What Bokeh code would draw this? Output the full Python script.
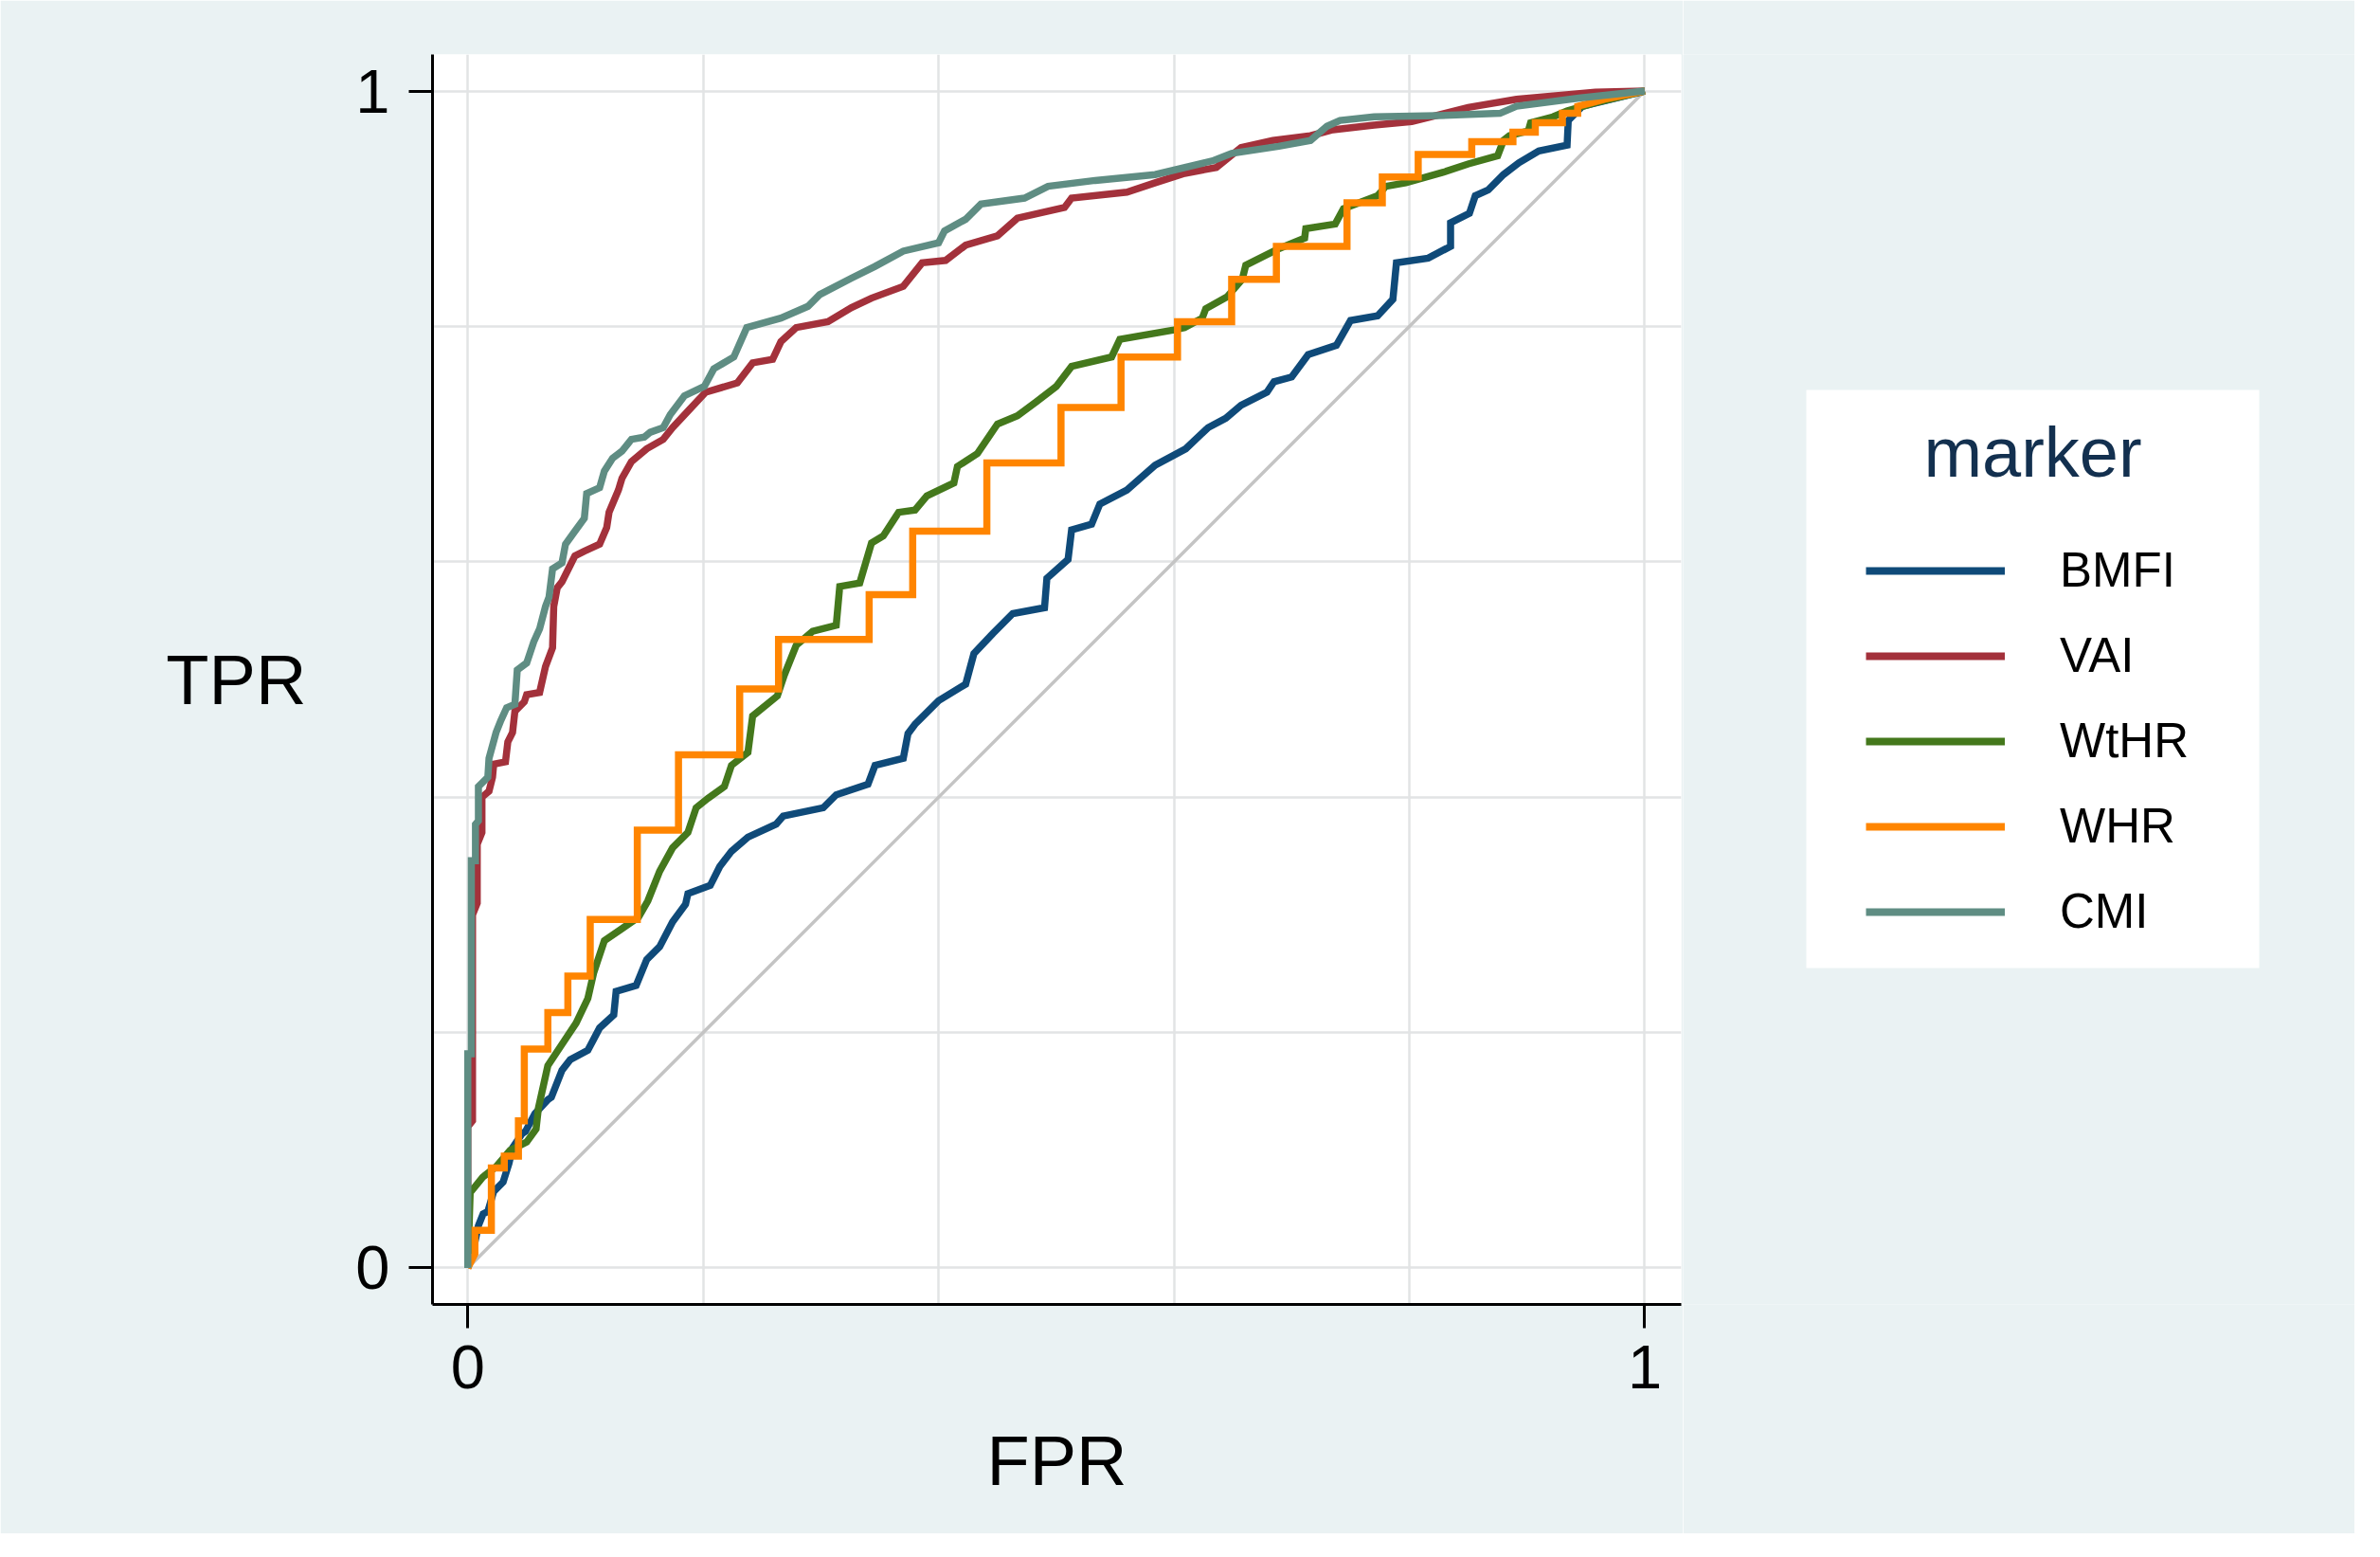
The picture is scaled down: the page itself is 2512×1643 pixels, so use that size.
import numpy as np
from bokeh.plotting import figure
from bokeh.models import FixedTicker, Legend, LegendItem, LinearAxis, Range1d, Grid
from bokeh.layouts import row
from bokeh.core.properties import value
from bokeh.embed import file_html
from bokeh.resources import INLINE

# ---------------- data ----------------
series_names = ["BMFI", "VAI", "WtHR", "WHR", "CMI"]
series_colors = ["#0f4a79", "#a3313b", "#44781c", "#ff8500", "#5f8d83"]
legend_title = "marker"

bmfi_fpr = [0, 0.004, 0.009, 0.013, 0.017, 0.022, 0.03, 0.035, 0.038, 0.046, 0.049, 0.057, 0.068, 0.071,
            0.080, 0.087, 0.102, 0.112, 0.124, 0.126, 0.143, 0.152, 0.163, 0.174, 0.185, 0.187, 0.206,
            0.214, 0.224, 0.238, 0.262, 0.268, 0.302, 0.313, 0.340, 0.346, 0.370, 0.374, 0.380, 0.400,
            0.423, 0.430, 0.446, 0.463, 0.490, 0.492, 0.510, 0.513, 0.530, 0.537, 0.560, 0.584, 0.610,
            0.629, 0.644, 0.657, 0.679, 0.685, 0.700, 0.714, 0.738, 0.750, 0.773, 0.786, 0.789, 0.816,
            0.835, 0.835, 0.851, 0.856, 0.867, 0.880, 0.893, 0.910, 0.934, 0.935, 0.947, 1.0]
bmfi_tpr = [0, 0.012, 0.036, 0.046, 0.048, 0.065, 0.073, 0.089, 0.102, 0.114, 0.116, 0.131, 0.143, 0.145,
            0.168, 0.177, 0.185, 0.204, 0.215, 0.235, 0.240, 0.262, 0.273, 0.294, 0.309, 0.318, 0.325,
            0.341, 0.354, 0.366, 0.377, 0.384, 0.391, 0.402, 0.411, 0.427, 0.433, 0.454, 0.462, 0.482,
            0.496, 0.522, 0.539, 0.556, 0.561, 0.586, 0.602, 0.627, 0.632, 0.649, 0.661, 0.682, 0.696,
            0.714, 0.722, 0.733, 0.744, 0.753, 0.757, 0.776, 0.784, 0.805, 0.809, 0.823, 0.854, 0.858,
            0.868, 0.888, 0.896, 0.911, 0.916, 0.929, 0.939, 0.949, 0.954, 0.975, 0.987, 1.0]

vai_fpr = [0, 0, 0.004, 0.004, 0.008, 0.008, 0.012, 0.012, 0.018, 0.021, 0.022, 0.032, 0.034, 0.038,
           0.040, 0.048, 0.050, 0.061, 0.066, 0.072, 0.073, 0.076, 0.080, 0.087, 0.091, 0.099, 0.112,
           0.118, 0.120, 0.128, 0.131, 0.139, 0.152, 0.166, 0.174, 0.187, 0.202, 0.229, 0.242, 0.259,
           0.266, 0.279, 0.306, 0.326, 0.343, 0.370, 0.386, 0.406, 0.423, 0.450, 0.467, 0.507, 0.513,
           0.560, 0.584, 0.609, 0.636, 0.657, 0.684, 0.716, 0.735, 0.770, 0.802, 0.850, 0.891, 0.958, 1.0]
vai_tpr = [0, 0.12, 0.125, 0.30, 0.31, 0.36, 0.37, 0.40, 0.405, 0.417, 0.428, 0.430, 0.447, 0.455,
           0.473, 0.481, 0.487, 0.489, 0.511, 0.527, 0.562, 0.578, 0.583, 0.597, 0.605, 0.609, 0.615,
           0.629, 0.642, 0.661, 0.671, 0.685, 0.696, 0.704, 0.714, 0.728, 0.744, 0.752, 0.769, 0.772,
           0.787, 0.799, 0.804, 0.816, 0.824, 0.834, 0.854, 0.856, 0.869, 0.877, 0.892, 0.901, 0.909,
           0.914, 0.922, 0.930, 0.935, 0.952, 0.958, 0.962, 0.967, 0.971, 0.974, 0.986, 0.993, 0.999, 1.0]

wthr_fpr = [0, 0.002, 0.0125, 0.024, 0.036, 0.050, 0.058, 0.060, 0.068, 0.080, 0.092, 0.102, 0.107,
            0.116, 0.129, 0.145, 0.153, 0.163, 0.174, 0.187, 0.194, 0.204, 0.218, 0.224, 0.238, 0.242,
            0.263, 0.269, 0.279, 0.293, 0.313, 0.316, 0.333, 0.343, 0.353, 0.366, 0.380, 0.390, 0.413,
            0.416, 0.433, 0.450, 0.467, 0.483, 0.500, 0.513, 0.547, 0.554, 0.600, 0.609, 0.624, 0.627,
            0.645, 0.658, 0.661, 0.673, 0.689, 0.711, 0.712, 0.737, 0.744, 0.773, 0.780, 0.797, 0.829,
            0.850, 0.875, 0.880, 0.885, 0.901, 0.903, 0.922, 0.934, 0.958, 1.0]
wthr_tpr = [0, 0.064, 0.077, 0.086, 0.100, 0.107, 0.118, 0.136, 0.172, 0.190, 0.208, 0.229, 0.251,
            0.278, 0.287, 0.298, 0.312, 0.337, 0.357, 0.370, 0.391, 0.399, 0.409, 0.427, 0.438, 0.469,
            0.486, 0.504, 0.529, 0.541, 0.546, 0.579, 0.582, 0.616, 0.622, 0.642, 0.644, 0.656, 0.667,
            0.681, 0.692, 0.717, 0.724, 0.736, 0.749, 0.766, 0.774, 0.789, 0.797, 0.799, 0.807, 0.815,
            0.825, 0.840, 0.852, 0.858, 0.866, 0.875, 0.883, 0.887, 0.900, 0.911, 0.919, 0.922, 0.931,
            0.938, 0.945, 0.958, 0.962, 0.966, 0.973, 0.978, 0.983, 0.990, 1.0]

whr_fpr = [0, 0.006, 0.006, 0.020, 0.020, 0.031, 0.031, 0.043, 0.043, 0.048, 0.048, 0.068, 0.068,
           0.085, 0.085, 0.104, 0.104, 0.144, 0.144, 0.179, 0.179, 0.231, 0.231, 0.264, 0.264, 0.341,
           0.341, 0.378, 0.378, 0.441, 0.441, 0.504, 0.504, 0.555, 0.555, 0.603, 0.603, 0.649, 0.649,
           0.687, 0.687, 0.747, 0.747, 0.777, 0.777, 0.8075, 0.8075, 0.853, 0.853, 0.888, 0.888, 0.907,
           0.907, 0.930, 0.930, 0.943, 0.943, 0.955, 0.966, 0.985, 1.0]
whr_tpr = [0, 0.012, 0.032, 0.032, 0.085, 0.085, 0.095, 0.095, 0.125, 0.125, 0.186, 0.186, 0.217,
           0.217, 0.248, 0.248, 0.296, 0.296, 0.372, 0.372, 0.436, 0.436, 0.492, 0.492, 0.534, 0.534,
           0.572, 0.572, 0.626, 0.626, 0.684, 0.684, 0.731, 0.731, 0.774, 0.774, 0.804, 0.804, 0.840,
           0.840, 0.868, 0.868, 0.905, 0.905, 0.927, 0.927, 0.946, 0.946, 0.957, 0.957, 0.965, 0.965,
           0.973, 0.973, 0.981, 0.981, 0.987, 0.990, 0.993, 0.997, 1.0]

cmi_fpr = [0, 0, 0.003, 0.003, 0.0065, 0.0065, 0.009, 0.009, 0.017, 0.018, 0.024, 0.028, 0.033, 0.040,
           0.042, 0.050, 0.056, 0.061, 0.066, 0.069, 0.072, 0.080, 0.083, 0.091, 0.099, 0.101, 0.112,
           0.116, 0.123, 0.131, 0.139, 0.150, 0.155, 0.166, 0.172, 0.184, 0.201, 0.209, 0.226, 0.237,
           0.266, 0.289, 0.299, 0.326, 0.346, 0.370, 0.400, 0.405, 0.423, 0.436, 0.473, 0.493, 0.533,
           0.584, 0.634, 0.649, 0.689, 0.716, 0.730, 0.741, 0.770, 0.824, 0.877, 0.891, 0.944, 1.0]
cmi_tpr = [0, 0.182, 0.182, 0.346, 0.346, 0.377, 0.380, 0.409, 0.417, 0.433, 0.455, 0.465, 0.476, 0.479,
           0.508, 0.514, 0.532, 0.543, 0.562, 0.570, 0.594, 0.599, 0.615, 0.626, 0.637, 0.658, 0.663,
           0.677, 0.688, 0.694, 0.704, 0.706, 0.710, 0.714, 0.725, 0.741, 0.749, 0.764, 0.774, 0.799,
           0.807, 0.817, 0.827, 0.841, 0.851, 0.864, 0.871, 0.881, 0.891, 0.904, 0.909, 0.919, 0.924,
           0.929, 0.941, 0.947, 0.953, 0.958, 0.970, 0.975, 0.978, 0.979, 0.981, 0.987, 0.994, 1.0]

ref_line = [0, 1]
axis_ticks = [0, 1]
grid_ticks = [0, 0.2, 0.4, 0.6, 0.8, 1]

series_fpr = [bmfi_fpr, vai_fpr, wthr_fpr, whr_fpr, cmi_fpr]
series_tpr = [bmfi_tpr, vai_tpr, wthr_tpr, whr_tpr, cmi_tpr]

# ---------------- main figure ----------------
FONT = "Liberation Sans"
BG = "#eaf2f3"
H = 1618
W_MAIN = 1776
W_LEG = 709
LEFT = 456        # frame left (px from figure left)
TOP = 57          # frame top (px from figure top)
FRAME_W = 1318
FRAME_H = 1319

p = figure(width=W_MAIN, height=H, output_backend="svg", toolbar_location=None,
           x_range=Range1d(-0.030, 1.031), y_range=Range1d(-0.031, 1.031),
           x_axis_type=None, y_axis_type=None,
           min_border_left=LEFT, min_border_right=W_MAIN - LEFT - FRAME_W, min_border_top=TOP,
           min_border_bottom=H - TOP - FRAME_H,
           background_fill_color="white", border_fill_color=BG, outline_line_color=None)

xaxis = LinearAxis(ticker=FixedTicker(ticks=axis_ticks), axis_label="FPR")
yaxis = LinearAxis(ticker=FixedTicker(ticks=axis_ticks), axis_label="TPR")
for ax in (xaxis, yaxis):
    ax.major_label_overrides = {0: "0", 1: "1"}
    ax.axis_line_color = "black"
    ax.axis_line_width = 3
    ax.major_tick_line_color = "black"
    ax.major_tick_line_width = 3
    ax.major_tick_out = 25
    ax.major_tick_in = 0
    ax.minor_tick_out = 0
    ax.minor_tick_in = 0
    ax.major_label_text_font = FONT
    ax.major_label_text_font_size = "65px"
    ax.major_label_text_color = "black"
    ax.axis_label_text_font = FONT
    ax.axis_label_text_font_size = "74px"
    ax.axis_label_text_font_style = "normal"
    ax.axis_label_text_color = "black"
xaxis.major_label_standoff = 18
xaxis.axis_label_standoff = 32
yaxis.major_label_standoff = 20
yaxis.axis_label_standoff = 49
if "axis_label_orientation" in LinearAxis.properties():
    yaxis.axis_label_orientation = "horizontal"
p.add_layout(xaxis, "below")
p.add_layout(yaxis, "left")

p.add_layout(Grid(dimension=0, ticker=FixedTicker(ticks=grid_ticks), grid_line_color="#e2e4e5", grid_line_width=2.5))
p.add_layout(Grid(dimension=1, ticker=FixedTicker(ticks=grid_ticks), grid_line_color="#e2e4e5", grid_line_width=2.5))

# reference diagonal
p.line(ref_line, ref_line, line_color="#c4c4c4", line_width=3.5)

for name, col, fx, ty in zip(series_names, series_colors, series_fpr, series_tpr):
    p.line(fx, ty, line_color=col, line_width=7.5, line_join="miter")

# ---------------- legend panel (separate figure on the right) ----------------
# its frame is aligned with the main frame by the row layout; y is in px from the figure top
pl = figure(width=W_LEG, height=H, output_backend="svg", toolbar_location=None,
            x_range=Range1d(0, W_LEG), y_range=Range1d(TOP + FRAME_H, TOP),
            x_axis_type=None, y_axis_type=None,
            min_border_left=0, min_border_right=0, min_border_top=TOP,
            min_border_bottom=H - TOP - FRAME_H,
            background_fill_color=BG, border_fill_color=BG, outline_line_color=None)
pl.quad(left=[130], right=[608], top=[411], bottom=[1021], fill_color="white", line_color=None)
pl.text(x=[369], y=[477], text=[legend_title], text_font=value(FONT), text_font_size="74px",
        text_color="#13304f", text_align="center", text_baseline="alphabetic")

nan_pt = np.array([np.nan])
leg_renderers = [pl.line(x=nan_pt, y=nan_pt, line_color=col, line_width=8) for col in series_colors]
legend = Legend(items=[LegendItem(label=n, renderers=[r]) for n, r in zip(series_names, leg_renderers)],
                location=(193, 385), orientation="vertical")
legend.label_text_font = FONT
legend.label_text_font_size = "51px"
legend.label_text_color = "black"
legend.glyph_width = 147
legend.glyph_height = 50
legend.label_height = 50
legend.label_standoff = 58
legend.spacing = 31
legend.padding = 0
legend.margin = 0
legend.border_line_color = None
legend.background_fill_alpha = 0.0
pl.add_layout(legend)

layout = row(p, pl)
open("out.html", "w").write(file_html(layout, INLINE))
